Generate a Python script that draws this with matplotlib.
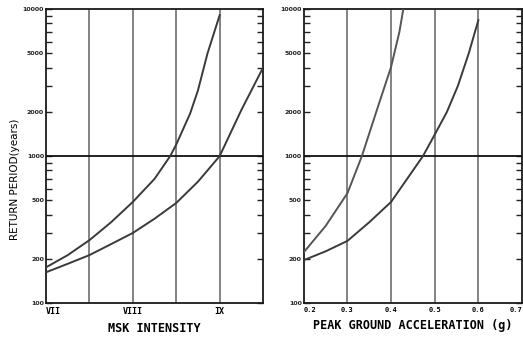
"""Return period vs MSK intensity and peak ground acceleration."""

import matplotlib
matplotlib.use("Agg")
from matplotlib import pyplot as plt

# MSK intensity panel
msk_upper_x = [7.0, 7.25, 7.5, 7.75, 8.0, 8.25, 8.43, 8.5, 8.66, 8.75, 8.86, 9.0]
msk_upper_y = [175, 212, 268, 355, 488, 700, 1000, 1200, 1950, 2800, 5000, 9100]
msk_lower_x = [7.0, 7.25, 7.5, 7.75, 8.0, 8.25, 8.5, 8.75, 9.0, 9.25, 9.5]
msk_lower_y = [162, 185, 212, 252, 300, 375, 480, 670, 1000, 2060, 4000]
msk_ticks = [7, 8, 9]
msk_labels = ["VII", "VIII", "IX"]
msk_grid = [7.5, 8.0, 8.5, 9.0]

# PGA panel
pga_steep_x = [0.2, 0.25, 0.3, 0.333, 0.366, 0.4, 0.419, 0.428]
pga_steep_y = [222, 335, 560, 1000, 2000, 4050, 7000, 10000]
pga_slow_x = [0.2, 0.25, 0.3, 0.35, 0.4, 0.473, 0.5, 0.528, 0.553, 0.578, 0.6]
pga_slow_y = [196, 225, 265, 355, 488, 1000, 1400, 2000, 3000, 5000, 8400]
pga_ticks = [0.2, 0.3, 0.4, 0.5, 0.6, 0.7]
pga_labels = ["0.2", "0.3", "0.4", "0.5", "0.6", "0.7"]
pga_grid = [0.3, 0.4, 0.5, 0.6]

# y axis
y_ticks = [100, 200, 300, 400, 500, 600, 700, 800, 900,
           1000, 2000, 3000, 4000, 5000, 6000, 7000, 8000, 9000, 10000]
y_labelled = [100, 200, 500, 1000, 2000, 5000, 10000]

CURVE = "#3a3a3a"
GRID = "#6e6e6e"
MONO = "DejaVu Sans Mono"


def style_axis(ax):
    ax.set_yscale("log")
    ax.set_ylim(100, 10000)
    ax.minorticks_off()
    ax.set_yticks(y_ticks)
    ax.set_yticklabels([str(v) if v in y_labelled else "" for v in y_ticks],
                       fontsize=4.5, fontweight="bold", color="#222222")
    ax.tick_params(axis="y", direction="in", length=4, width=1.0,
                   right=True, pad=1.5, colors="#222222")
    ax.tick_params(axis="x", length=0, pad=3)
    for s in ax.spines.values():
        s.set_linewidth(1.3)
        s.set_color("#1a1a1a")
    ax.axhline(1000, color="#111111", lw=1.3, zorder=3)


fig = plt.figure(figsize=(5.23, 3.39), dpi=100)
ax1 = fig.add_axes([0.088, 0.106, 0.415, 0.867])
ax2 = fig.add_axes([0.581, 0.106, 0.417, 0.867])

# left panel
style_axis(ax1)
ax1.set_xlim(7.0, 9.5)
for g in msk_grid:
    ax1.axvline(g, color=GRID, lw=1.2, zorder=1)
ax1.plot(msk_upper_x, msk_upper_y, color=CURVE, lw=1.4, zorder=4)
ax1.plot(msk_lower_x, msk_lower_y, color=CURVE, lw=1.4, zorder=4)
ax1.set_xticks(msk_ticks)
ax1.set_xticklabels(msk_labels, fontsize=6, fontweight="bold", family=MONO)
ax1.get_xticklabels()[0].set_horizontalalignment("left")
ax1.set_xlabel("MSK INTENSITY", fontsize=8.5, fontweight="bold", family=MONO,
               labelpad=4)
ax1.set_ylabel("RETURN PERIOD(years)", fontsize=7.5)
ax1.yaxis.set_label_coords(-0.12, 0.42)

# right panel
style_axis(ax2)
ax2.set_xlim(0.2, 0.7)
for g in pga_grid:
    ax2.axvline(g, color=GRID, lw=1.2, zorder=1)
ax2.plot(pga_steep_x, pga_steep_y, color="#555555", lw=1.4, zorder=4)
ax2.plot(pga_slow_x, pga_slow_y, color=CURVE, lw=1.4, zorder=4)
ax2.set_xticks(pga_ticks)
ax2.set_xticklabels(pga_labels, fontsize=5, fontweight="bold", family=MONO)
ax2.get_xticklabels()[0].set_horizontalalignment("left")
ax2.get_xticklabels()[-1].set_horizontalalignment("right")
ax2.set_xlabel("PEAK GROUND ACCELERATION (g)", fontsize=8.5, fontweight="bold",
               family=MONO, labelpad=4)

fig.savefig("out.png", dpi=100)
